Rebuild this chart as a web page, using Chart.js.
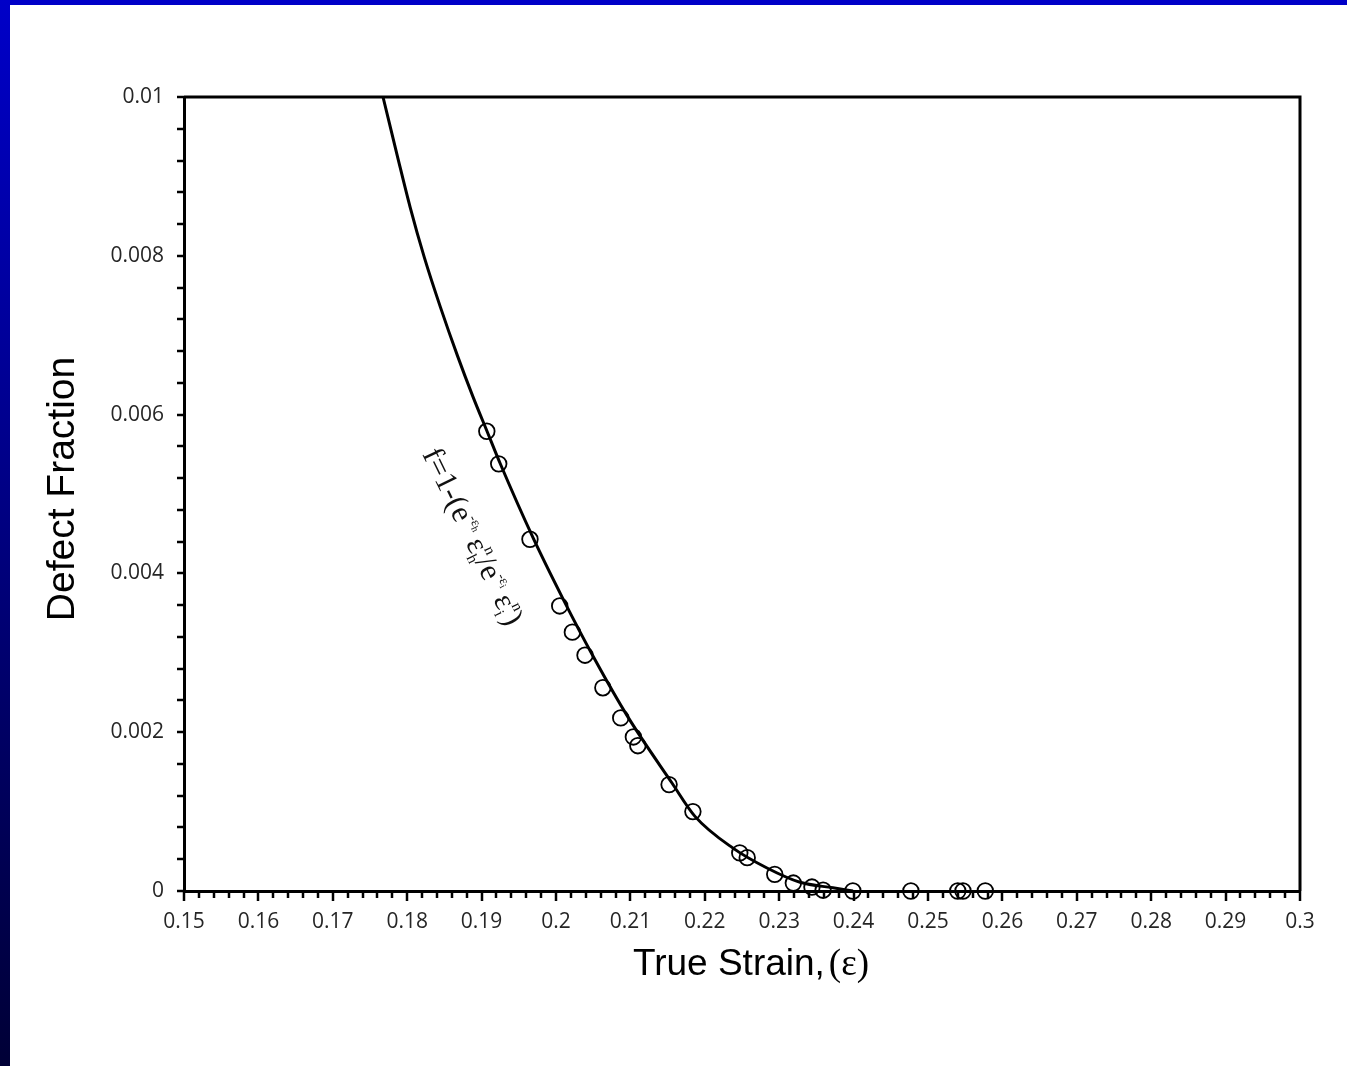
<!DOCTYPE html>
<html><head><meta charset="utf-8">
<script src="https://cdn.jsdelivr.net/npm/chart.js@4.4.0/dist/chart.umd.min.js"></script>
<style>
html,body{margin:0;padding:0;}
body{width:1347px;height:1066px;overflow:hidden;background:linear-gradient(to bottom,#0000c8,#000036);position:relative;}
#wrap{position:absolute;left:10px;top:5px;width:1337px;height:1061px;background:#fff;}
canvas{display:block;}
</style></head><body>
<div id="wrap"><canvas id="c" width="1337" height="1061"></canvas></div>
<script>
// measured data points (open circles)
const strain = [0.1907, 0.1923, 0.1965, 0.2005, 0.2022, 0.2039, 0.2063, 0.2087, 0.2104, 0.2110, 0.2152, 0.2184, 0.2247, 0.2257, 0.2294, 0.2319, 0.2344, 0.2359, 0.2399, 0.2477, 0.2540, 0.2547, 0.2577];
const defect = [0.00579, 0.00538, 0.00443, 0.00359, 0.00326, 0.00297, 0.00256, 0.00218, 0.00194, 0.00183, 0.00134, 0.00100, 0.00048, 0.00042, 0.00021, 0.00010, 0.00005, 0.00001, 0, 0, 0, 0, 0];
// fitted curve f=1-(...)
const fitStrain = [0.17675, 0.17872, 0.18040, 0.18230, 0.18444, 0.18680, 0.18886, 0.19073, 0.19247, 0.19691, 0.20094, 0.20497, 0.20968, 0.21559, 0.21868, 0.22379, 0.22836, 0.23280, 0.23723, 0.23992];
const fitFraction = [0.01000, 0.00924, 0.00861, 0.00798, 0.00736, 0.00673, 0.00622, 0.00579, 0.00539, 0.00445, 0.00368, 0.00296, 0.00219, 0.00136, 0.00094, 0.00054, 0.00029, 0.00011, 0.00004, 0];
// tick labels
const xTickLabels = ['0.15','0.16','0.17','0.18','0.19','0.2','0.21','0.22','0.23','0.24','0.25','0.26','0.27','0.28','0.29','0.3'];
const yTickLabels = ['0','0.002','0.004','0.006','0.008','0.01'];
const xTitle = 'True Strain,';
const xTitleSym = '(ε)';
const yTitle = 'Defect Fraction';

const tickFont = {family: '"Open Sans", "Liberation Sans", sans-serif', size: 21};
const tickColor = '#262626';

const ticksPlugin = {
  id: 'ticksPlugin',
  afterDraw(chart) {
    const ctx = chart.ctx;
    const xs = chart.scales.x, ys = chart.scales.y;
    const a = chart.chartArea;
    ctx.save();
    ctx.strokeStyle = '#000';
    ctx.lineWidth = 2.5;
    // x ticks (major 0.01, minor 0.002)
    for (let i = 0; i <= 75; i++) {
      const v = 0.15 + i * 0.002;
      const px = Math.round(xs.getPixelForValue(v));
      const len = (i % 5 === 0) ? 10 : 7;
      ctx.beginPath(); ctx.moveTo(px, a.bottom); ctx.lineTo(px, a.bottom + len); ctx.stroke();
    }
    // y ticks (major 0.002, minor 0.0004)
    for (let i = 0; i <= 25; i++) {
      const v = i * 0.0004;
      const py = Math.round(ys.getPixelForValue(v));
      ctx.beginPath(); ctx.moveTo(a.left, py); ctx.lineTo(a.left - 7, py); ctx.stroke();
    }
    // top and right frame
    ctx.lineWidth = 3;
    ctx.beginPath();
    ctx.moveTo(a.left, a.top); ctx.lineTo(a.right, a.top); ctx.lineTo(a.right, a.bottom);
    ctx.stroke();

    // axis titles
    ctx.fillStyle = '#000';
    ctx.textBaseline = 'alphabetic';
    ctx.textAlign = 'left';
    const sansT = '37px "Liberation Sans", Arial, sans-serif';
    const serifT = '37px "Liberation Serif", "Times New Roman", serif';
    ctx.font = sansT;
    const w1 = ctx.measureText(xTitle).width;
    ctx.font = serifT;
    const w2 = ctx.measureText(xTitleSym).width;
    const total = w1 + 4 + w2;
    const sx = 620 + (242 - total) / 2;
    ctx.font = sansT;
    ctx.fillText(xTitle, sx, 970);
    ctx.font = serifT;
    ctx.fillText(xTitleSym, sx + w1 + 4, 970);

    ctx.save();
    ctx.translate(64, 484);
    ctx.rotate(-Math.PI / 2);
    ctx.textAlign = 'center';
    ctx.font = '39px "Liberation Sans", Arial, sans-serif';
    ctx.fillText(yTitle, 0, 0);
    ctx.restore();

    // formula annotation
    drawFormula(ctx, 412, 449, 64, 31);
    ctx.restore();
  }
};

function drawFormula(ctx, x0, y0, angleDeg, S) {
  ctx.save();
  ctx.translate(x0, y0);
  ctx.rotate(angleDeg * Math.PI / 180);
  ctx.fillStyle = '#111';
  ctx.textBaseline = 'alphabetic';
  ctx.textAlign = 'left';
  const fam = '"Liberation Serif", "Times New Roman", serif';
  let x = 0;
  const put = (t, s, dy) => { ctx.font = s + 'px ' + fam; ctx.fillText(t, x, dy); x += ctx.measureText(t).width; };
  const pair = (sub, sup, s) => {
    const x1 = x;
    ctx.font = s + 'px ' + fam;
    ctx.fillText(sub, x1, S * 0.18);
    const wa = ctx.measureText(sub).width;
    ctx.fillText(sup, x1, -S * 0.45);
    const wb = ctx.measureText(sup).width;
    x = x1 + Math.max(wa, wb);
  };
  put('f=1-(e', S, 0);
  put('-ε', S * 0.45, -S * 0.45);
  put('h', S * 0.32, -S * 0.37);
  x += S * 0.2;
  put('ε', S, 0);
  pair('h', 'n', S * 0.5);
  put('/e', S, 0);
  put('-ε', S * 0.45, -S * 0.45);
  put('i', S * 0.32, -S * 0.37);
  x += S * 0.2;
  put('ε', S, 0);
  pair('i', 'n', S * 0.5);
  put(')', S, 0);
  ctx.restore();
}

new Chart(document.getElementById('c'), {
  type: 'scatter',
  data: {
    datasets: [
      {
        label: 'Data',
        data: strain.map((v, i) => ({x: v, y: defect[i]})),
        pointStyle: 'circle',
        pointRadius: 7.8,
        pointBorderWidth: 1.8,
        pointBackgroundColor: 'rgba(0,0,0,0)',
        pointBorderColor: '#000',
        showLine: false,
        clip: false
      },
      {
        label: 'Fit',
        data: fitStrain.map((v, i) => ({x: v, y: fitFraction[i]})),
        showLine: true,
        pointRadius: 0,
        borderColor: '#000',
        borderWidth: 3,
        cubicInterpolationMode: 'monotone',
        clip: false
      }
    ]
  },
  options: {
    responsive: false,
    devicePixelRatio: 1,
    animation: false,
    layout: {padding: {left: 0, top: 92, right: 47, bottom: 0}},
    plugins: {legend: {display: false}, tooltip: {enabled: false}},
    scales: {
      x: {
        type: 'linear', min: 0.15, max: 0.3,
        grid: {display: false, drawTicks: false},
        border: {display: true, color: '#000', width: 3},
        ticks: {
          stepSize: 0.01, autoSkip: false, maxRotation: 0,
          padding: 18, color: tickColor, font: tickFont,
          callback: (v, i) => xTickLabels[i]
        },
        afterFit: s => { s.height = 175; }
      },
      y: {
        type: 'linear', min: 0, max: 0.01,
        grid: {display: false, drawTicks: false},
        border: {display: true, color: '#000', width: 3},
        ticks: {
          stepSize: 0.002, autoSkip: false,
          padding: 20, color: tickColor, font: tickFont,
          callback: (v, i) => yTickLabels[i]
        },
        afterFit: s => { s.width = 174; }
      }
    }
  },
  plugins: [ticksPlugin]
});
</script>
</body></html>
